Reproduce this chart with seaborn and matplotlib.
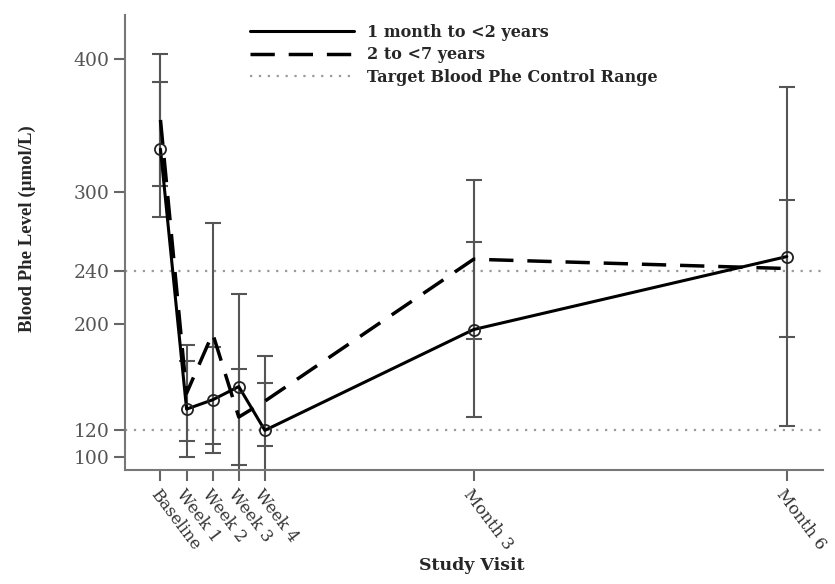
import pandas as pd
import matplotlib.pyplot as plt
import seaborn as sns
from matplotlib.lines import Line2D

# visits and their position in weeks
visits = ['Baseline', 'Week 1', 'Week 2', 'Week 3', 'Week 4', 'Month 3', 'Month 6']
visit_weeks = [0, 1, 2, 3, 4, 12, 24]

# mean blood Phe and SD per group
young_mean = [332, 136, 143, 153, 120, 196, 251]
young_sd = [51, 36, 40, 70, 36, 66, 128]
older_mean = [354, 148, 193, 130, 142, 249, 242]
older_sd = [50, 36, 83, 36, 34, 60, 52]

target_range = [120, 240]
yticks = [100, 120, 200, 240, 300, 400]

groups = ['1 month to <2 years', '2 to <7 years']

df = pd.DataFrame({
    'week': visit_weeks * 2,
    'phe': young_mean + older_mean,
    'sd': young_sd + older_sd,
    'group': [groups[0]] * len(visits) + [groups[1]] * len(visits),
})

sns.set_style('ticks')
plt.rcParams['font.family'] = ['DejaVu Serif']

fig, ax = plt.subplots(figsize=(8.35, 5.84), dpi=100)
fig.subplots_adjust(left=0.150, right=0.986, top=0.974, bottom=0.195)

# target range lines
for y in target_range:
    ax.axhline(y, color='#9a9a9a', ls=(0, (1, 3)), lw=1.6, zorder=1)

# error bars (gray)
for g in groups:
    sub = df[df['group'] == g]
    ax.errorbar(sub['week'], sub['phe'], yerr=sub['sd'], fmt='none',
                ecolor='#555555', elinewidth=1.5, capsize=6, capthick=1.5, zorder=2)

young = df[df['group'] == groups[0]]
older = df[df['group'] == groups[1]]
sns.lineplot(x=young['week'], y=young['phe'], ax=ax, color='black', lw=2.2,
             marker='o', markersize=8, markerfacecolor='none',
             markeredgecolor='#222222', markeredgewidth=1.3, zorder=4)
sns.lineplot(x=older['week'], y=older['phe'], ax=ax, color='black', lw=2.5,
             dashes=(7, 4), zorder=3)

ax.set_xlim(-1.35, 25.4)
ax.set_ylim(90, 433)
ax.set_yticks(yticks)
ax.set_yticklabels([str(t) for t in yticks], fontsize=13.5, color='#555555')
ax.set_xticks(visit_weeks)
ax.set_xticklabels(visits, rotation=-53, ha='left', va='top',
                   rotation_mode='anchor', fontsize=12, color='#333333')

for s in ['top', 'right']:
    ax.spines[s].set_visible(False)
for s in ['left', 'bottom']:
    ax.spines[s].set_color('#777777')
    ax.spines[s].set_linewidth(1.5)
ax.tick_params(axis='both', color='#666666', width=1.5, length=8)

ax.set_xlabel('Study Visit', fontsize=12.5, fontweight='bold')
ax.set_ylabel('Blood Phe Level (µmol/L)', fontsize=13.5, fontweight='bold',
              family=['Liberation Serif'])
ax.xaxis.set_label_coords(0.497, -0.19)
ax.yaxis.set_label_coords(-0.128, 0.53)

handles = [
    Line2D([], [], color='black', lw=2.2),
    Line2D([], [], color='black', lw=2.5, dashes=(7, 4)),
    Line2D([], [], color='#9a9a9a', lw=1.6, ls=(0, (1, 3))),
]
labels = groups + ['Target Blood Phe Control Range']
ax.legend(handles, labels, loc='upper left', bbox_to_anchor=(0.17, 0.995),
          frameon=False, handlelength=6.5, handletextpad=0.8, labelspacing=0.35,
          borderaxespad=0, prop={'weight': 'bold', 'size': 11.5})

plt.savefig('out.png', dpi=100)
